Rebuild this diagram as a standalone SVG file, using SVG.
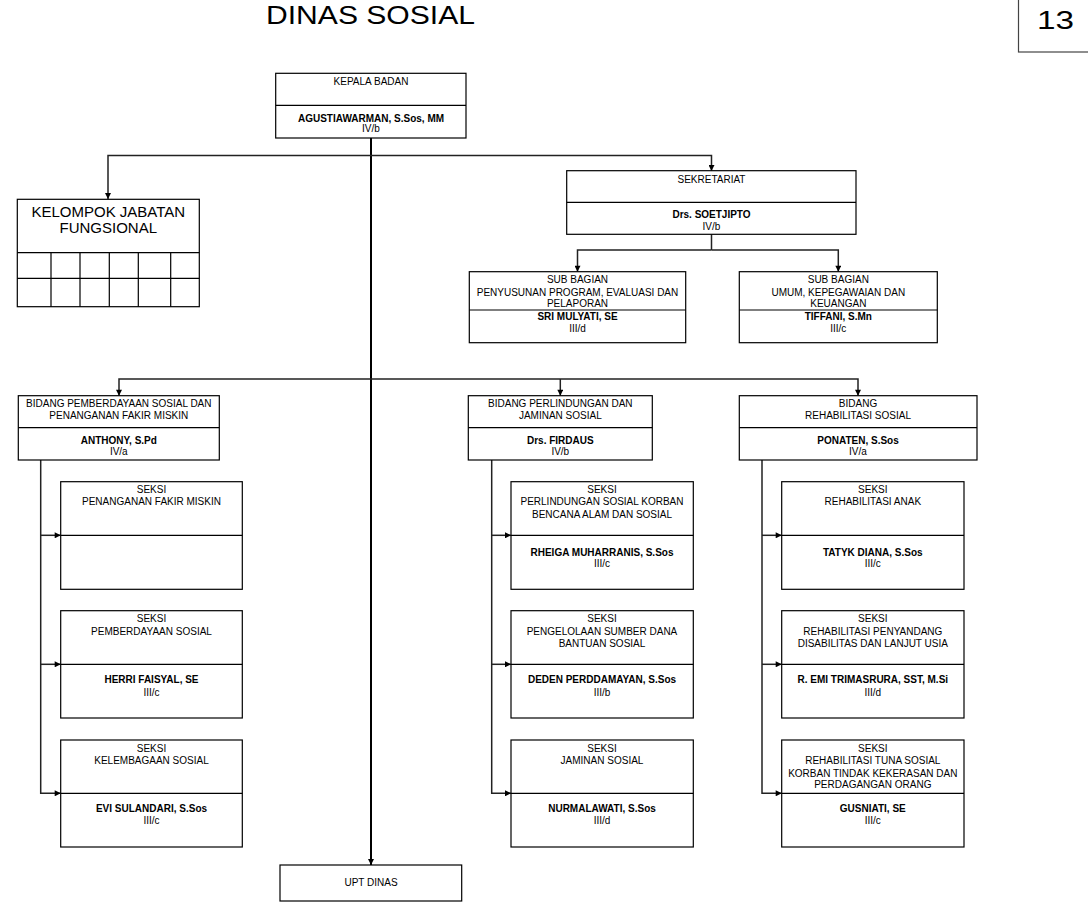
<svg xmlns="http://www.w3.org/2000/svg" width="1088" height="910" viewBox="0 0 1088 910">
<style>
.box{fill:#fff;stroke:#000;stroke-width:1.2}
.div{stroke:#000;stroke-width:1.2;fill:none}
.t{font-family:"Liberation Sans",Arial,sans-serif;font-size:10px;text-anchor:middle;fill:#000}
.b{font-weight:bold}
.c{fill:none;stroke:#222;stroke-width:1.5}
.main{fill:none;stroke:#000;stroke-width:2}
</style>
<defs>
<marker id="arr" viewBox="0 0 10 10" refX="10" refY="5" markerWidth="7" markerHeight="6" markerUnits="userSpaceOnUse" orient="auto">
<path d="M0,0 L10,5 L0,10 z" fill="#000"/>
</marker>
</defs>
<rect width="1088" height="910" fill="#fff"/>

<text x="266" y="24" style="font-family:'Liberation Sans',Arial,sans-serif;font-size:26px" textLength="209" lengthAdjust="spacingAndGlyphs">DINAS SOSIAL</text>
<g id="page-number">
<rect x="1018.5" y="-5" width="80" height="57" fill="#fff" stroke="#444" stroke-width="1.2"/>
<text x="1037" y="29" style="font-family:'Liberation Sans',Arial,sans-serif;font-size:25px" textLength="37" lengthAdjust="spacingAndGlyphs">13</text>
</g>

<g id="connectors">
<path class="main" d="M371,138 V865" marker-end="url(#arr)"/>
<path class="c" d="M371,155.5 H108 V199" marker-end="url(#arr)"/>
<path class="c" d="M371,155.5 H711.5 V171" marker-end="url(#arr)"/>
<path class="c" d="M711.5,234 V250"/>
<path class="c" d="M711.5,250 H577.5 V271.7" marker-end="url(#arr)"/>
<path class="c" d="M711.5,250 H838.3 V271.7" marker-end="url(#arr)"/>
<path class="c" d="M371,379 H119 V395.7" marker-end="url(#arr)"/>
<path class="c" d="M371,379 H858 V395.7" marker-end="url(#arr)"/>
<path class="c" d="M560.3,379 V395.7" marker-end="url(#arr)"/>
<path class="c" d="M40.7,460 V793.3 H60.7" marker-end="url(#arr)"/>
<path class="c" d="M40.7,535.3 H60.7" marker-end="url(#arr)"/>
<path class="c" d="M40.7,664.3 H60.7" marker-end="url(#arr)"/>
<path class="c" d="M491.7,460 V793.3 H511" marker-end="url(#arr)"/>
<path class="c" d="M491.7,535.3 H511" marker-end="url(#arr)"/>
<path class="c" d="M491.7,664.3 H511" marker-end="url(#arr)"/>
<path class="c" d="M762,460 V793.3 H781.7" marker-end="url(#arr)"/>
<path class="c" d="M762,535.3 H781.7" marker-end="url(#arr)"/>
<path class="c" d="M762,664.3 H781.7" marker-end="url(#arr)"/>
</g>

<g id="kepala">
<rect class="box" x="275.7" y="73.3" width="190.3" height="64.7"/>
<line class="div" x1="275.7" y1="105.3" x2="466" y2="105.3"/>
<text class="t" x="371" y="85">KEPALA BADAN</text>
<text class="t b" x="371" y="122">AGUSTIAWARMAN, S.Sos, MM</text>
<text class="t" x="371" y="132">IV/b</text>
</g>

<g id="kelompok">
<rect class="box" x="17.3" y="199.3" width="182" height="107.4"/>
<path class="div" d="M17.3,252.7 H199.3 M17.3,278.3 H199.3 M51,252.7 V306.7 M80,252.7 V306.7 M109.3,252.7 V306.7 M138.3,252.7 V306.7 M170.7,252.7 V306.7"/>
<text class="t" style="font-size:15px" x="108.3" y="216.7">KELOMPOK JABATAN</text>
<text class="t" style="font-size:15px" x="108.3" y="233.3">FUNGSIONAL</text>
</g>

<g id="sekretariat">
<rect class="box" x="566.7" y="170.7" width="289.3" height="63.6"/>
<line class="div" x1="566.7" y1="202.3" x2="856" y2="202.3"/>
<text class="t" x="711.5" y="183">SEKRETARIAT</text>
<text class="t b" x="711.5" y="218">Drs. SOETJIPTO</text>
<text class="t" x="711.5" y="230">IV/b</text>
</g>

<g id="subbag-program">
<rect class="box" x="469.3" y="271.7" width="216.4" height="71"/>
<line class="div" x1="469.3" y1="310" x2="685.7" y2="310"/>
<text class="t" x="577.5" y="283.3">SUB BAGIAN</text>
<text class="t" x="577.5" y="296">PENYUSUNAN PROGRAM, EVALUASI DAN</text>
<text class="t" x="577.5" y="306.7">PELAPORAN</text>
<text class="t b" x="577.5" y="320">SRI MULYATI, SE</text>
<text class="t" x="577.5" y="331.7">III/d</text>
</g>

<g id="subbag-umum">
<rect class="box" x="739.3" y="271.7" width="198" height="71"/>
<line class="div" x1="739.3" y1="310" x2="937.3" y2="310"/>
<text class="t" x="838.3" y="283.3">SUB BAGIAN</text>
<text class="t" x="838.3" y="296">UMUM,  KEPEGAWAIAN DAN</text>
<text class="t" x="838.3" y="306.7">KEUANGAN</text>
<text class="t b" x="838.3" y="320">TIFFANI, S.Mn</text>
<text class="t" x="838.3" y="331.7">III/c</text>
</g>

<g id="bidang-pemberdayaan">
<rect class="box" x="18.3" y="395.7" width="201" height="64.3"/>
<line class="div" x1="18.3" y1="427.7" x2="219.3" y2="427.7"/>
<text class="t" x="118.8" y="406.7">BIDANG PEMBERDAYAAN SOSIAL DAN</text>
<text class="t" x="118.8" y="419">PENANGANAN FAKIR MISKIN</text>
<text class="t b" x="118.8" y="444">ANTHONY, S.Pd</text>
<text class="t" x="118.8" y="455">IV/a</text>
</g>

<g id="bidang-perlindungan">
<rect class="box" x="468.3" y="395.7" width="184" height="64.3"/>
<line class="div" x1="468.3" y1="427.7" x2="652.3" y2="427.7"/>
<text class="t" x="560.3" y="406.7">BIDANG PERLINDUNGAN DAN</text>
<text class="t" x="560.3" y="419">JAMINAN SOSIAL</text>
<text class="t b" x="560.3" y="444">Drs. FIRDAUS</text>
<text class="t" x="560.3" y="455">IV/b</text>
</g>

<g id="bidang-rehabilitasi">
<rect class="box" x="739.3" y="395.7" width="237.7" height="64.3"/>
<line class="div" x1="739.3" y1="427.7" x2="977" y2="427.7"/>
<text class="t" x="858" y="406.7">BIDANG</text>
<text class="t" x="858" y="419">REHABILITASI SOSIAL</text>
<text class="t b" x="858" y="444">PONATEN, S.Sos</text>
<text class="t" x="858" y="455">IV/a</text>
</g>

<!-- left column seksi -->
<g id="seksi-fakir-miskin">
<rect class="box" x="60.7" y="481.7" width="181.6" height="107.6"/>
<line class="div" x1="60.7" y1="535.3" x2="242.3" y2="535.3"/>
<text class="t" x="151.5" y="492.7">SEKSI</text>
<text class="t" x="151.5" y="505.3">PENANGANAN FAKIR MISKIN</text>
</g>

<g id="seksi-pemberdayaan">
<rect class="box" x="60.7" y="610.7" width="181.6" height="107.3"/>
<line class="div" x1="60.7" y1="664.3" x2="242.3" y2="664.3"/>
<text class="t" x="151.5" y="622.3">SEKSI</text>
<text class="t" x="151.5" y="634.7">PEMBERDAYAAN SOSIAL</text>
<text class="t b" x="151.5" y="683.3">HERRI FAISYAL, SE</text>
<text class="t" x="151.5" y="695.7">III/c</text>
</g>

<g id="seksi-kelembagaan">
<rect class="box" x="60.7" y="740" width="181.6" height="107"/>
<line class="div" x1="60.7" y1="793.3" x2="242.3" y2="793.3"/>
<text class="t" x="151.5" y="751.7">SEKSI</text>
<text class="t" x="151.5" y="764">KELEMBAGAAN SOSIAL</text>
<text class="t b" x="151.5" y="812.3">EVI SULANDARI, S.Sos</text>
<text class="t" x="151.5" y="824">III/c</text>
</g>

<!-- middle column seksi -->
<g id="seksi-perlindungan">
<rect class="box" x="511" y="481.7" width="182.3" height="107.6"/>
<line class="div" x1="511" y1="535.3" x2="693.3" y2="535.3"/>
<text class="t" x="602" y="492.7">SEKSI</text>
<text class="t" x="602" y="505.3">PERLINDUNGAN SOSIAL KORBAN</text>
<text class="t" x="602" y="517.7">BENCANA ALAM DAN SOSIAL</text>
<text class="t b" x="602" y="555.7">RHEIGA MUHARRANIS, S.Sos</text>
<text class="t" x="602" y="566.7">III/c</text>
</g>

<g id="seksi-sumber-dana">
<rect class="box" x="511" y="610.7" width="182.3" height="107.3"/>
<line class="div" x1="511" y1="664.3" x2="693.3" y2="664.3"/>
<text class="t" x="602" y="622.3">SEKSI</text>
<text class="t" x="602" y="634.7">PENGELOLAAN SUMBER DANA</text>
<text class="t" x="602" y="647">BANTUAN SOSIAL</text>
<text class="t b" x="602" y="683.3">DEDEN PERDDAMAYAN, S.Sos</text>
<text class="t" x="602" y="695.7">III/b</text>
</g>

<g id="seksi-jaminan">
<rect class="box" x="511" y="740" width="182.3" height="107"/>
<line class="div" x1="511" y1="793.3" x2="693.3" y2="793.3"/>
<text class="t" x="602" y="751.7">SEKSI</text>
<text class="t" x="602" y="764">JAMINAN SOSIAL</text>
<text class="t b" x="602" y="812.3">NURMALAWATI, S.Sos</text>
<text class="t" x="602" y="824">III/d</text>
</g>

<!-- right column seksi -->
<g id="seksi-rehab-anak">
<rect class="box" x="781.7" y="481.7" width="182.3" height="107.6"/>
<line class="div" x1="781.7" y1="535.3" x2="964" y2="535.3"/>
<text class="t" x="872.8" y="492.7">SEKSI</text>
<text class="t" x="872.8" y="505.3">REHABILITASI ANAK</text>
<text class="t b" x="872.8" y="555.7">TATYK DIANA, S.Sos</text>
<text class="t" x="872.8" y="566.7">III/c</text>
</g>

<g id="seksi-rehab-disabilitas">
<rect class="box" x="781.7" y="610.7" width="182.3" height="107.3"/>
<line class="div" x1="781.7" y1="664.3" x2="964" y2="664.3"/>
<text class="t" x="872.8" y="622.3">SEKSI</text>
<text class="t" x="872.8" y="634.7">REHABILITASI PENYANDANG</text>
<text class="t" x="872.8" y="647">DISABILITAS DAN LANJUT USIA</text>
<text class="t b" x="872.8" y="683.3">R. EMI TRIMASRURA, SST, M.Si</text>
<text class="t" x="872.8" y="695.7">III/d</text>
</g>

<g id="seksi-rehab-tuna-sosial">
<rect class="box" x="781.7" y="740" width="182.3" height="107"/>
<line class="div" x1="781.7" y1="793.3" x2="964" y2="793.3"/>
<text class="t" x="872.8" y="751.7">SEKSI</text>
<text class="t" x="872.8" y="764">REHABILITASI TUNA SOSIAL</text>
<text class="t" x="872.8" y="776.7">KORBAN TINDAK KEKERASAN DAN</text>
<text class="t" x="872.8" y="788.3">PERDAGANGAN ORANG</text>
<text class="t b" x="872.8" y="812.3">GUSNIATI, SE</text>
<text class="t" x="872.8" y="824">III/c</text>
</g>

<g id="upt-dinas">
<rect class="box" x="280" y="865" width="181.7" height="36"/>
<text class="t" x="371" y="886">UPT DINAS</text>
</g>
</svg>
